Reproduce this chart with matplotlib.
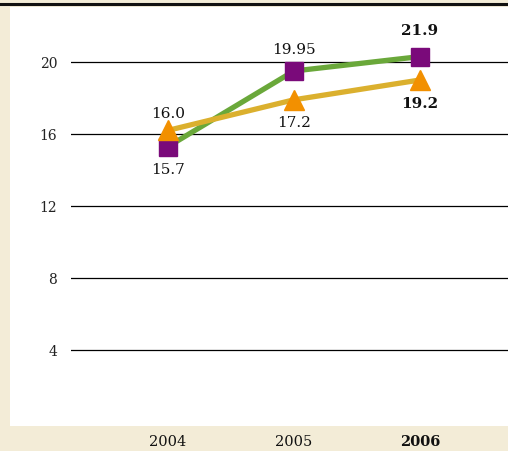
import matplotlib
matplotlib.use("Agg")
import matplotlib.pyplot as plt
from matplotlib.patches import Rectangle
from matplotlib.lines import Line2D

years = ["2004", "2005", "2006"]
series_a = [15.3, 19.5, 20.3]        # plotted positions (green line, purple squares)
series_a_labels = ["15.7", "19.95", "21.9"]
series_b = [16.2, 17.9, 19.0]        # plotted positions (gold line, orange triangles)
series_b_labels = ["16.0", "17.2", "19.2"]
yticks = [4, 8, 12, 16, 20]

W, H = 508, 452
BEIGE = "#f3ecd7"
plt.rcParams["font.family"] = ["DejaVu Serif"]
fig = plt.figure(figsize=(W / 100, H / 100), dpi=100)
fig.patch.set_facecolor(BEIGE)

# white panel
fig.patches.append(Rectangle((10 / W, 1 - 427 / H), 1, (427 - 8) / H,
                             transform=fig.transFigure, facecolor="white",
                             edgecolor="none", zorder=-5))
# top black rule
fig.lines.append(Line2D([0, 1], [1 - 5 / H, 1 - 5 / H], transform=fig.transFigure,
                        color="#111111", lw=2.2, zorder=-4))

ax = fig.add_axes([71 / W, (H - 423) / H, (W - 71) / W, (423 - 8) / H])
ax.set_facecolor("none")
ax.set_zorder(1)
x = list(range(len(years)))
ax.set_xlim(-0.77, 2.70)
ax.set_ylim(0, 415 / 18)
for s in ax.spines.values():
    s.set_visible(False)
for t in yticks:
    ax.axhline(t, color="black", lw=0.9, zorder=1)
ax.set_yticks(yticks)
ax.set_yticklabels([str(t) for t in yticks], fontsize=10, color="#222222")
ax.tick_params(axis="y", length=0, pad=10)
ax.set_xticks([])

ax.plot(x, series_a, color="#6aa83a", lw=3.8, zorder=2, solid_capstyle="butt")
ax.plot(x, series_b, color="#dbb02e", lw=3.8, zorder=3, solid_capstyle="butt")
ax.plot(x, series_a, ls="none", marker="s", ms=13.5, color="#7a0a7a", zorder=4)
ax.plot(x, series_b, ls="none", marker="^", ms=14, color="#f29000", zorder=5)

a_off = [-22, 22, 27]
b_off = [17, -22, -23]
xpix = ax.transData
for i in x:
    bold = "bold" if i == 2 else "normal"
    ax.annotate(series_a_labels[i], (i, series_a[i]), xytext=(0, a_off[i]),
                textcoords="offset pixels", ha="center", va="center",
                fontsize=11, fontweight=bold, color="#111111", zorder=6)
    ax.annotate(series_b_labels[i], (i, series_b[i]), xytext=(0, b_off[i]),
                textcoords="offset pixels", ha="center", va="center",
                fontsize=11, fontweight=bold, color="#111111", zorder=6)
    ax.annotate(years[i], (i, 0), xytext=(0, -19), textcoords="offset pixels",
                ha="center", va="center", fontsize=10.5, fontweight=bold,
                color="#111111", annotation_clip=False)

fig.savefig("out.png", dpi=100, facecolor=BEIGE)
